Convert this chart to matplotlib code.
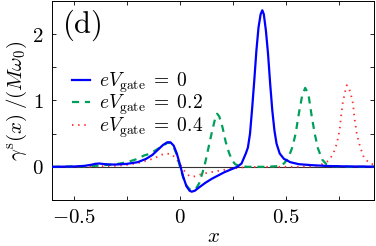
import matplotlib
matplotlib.use("Agg")
import matplotlib.pyplot as plt
from matplotlib.ticker import FixedLocator, FixedFormatter

plt.rcParams['mathtext.fontset'] = 'cm'
plt.rcParams['font.family'] = ['DejaVu Serif']

# ---- data ----
x_blue = [-0.6, -0.5, -0.45, -0.42, -0.40, -0.38, -0.36, -0.33, -0.30, -0.25, -0.20, -0.16,
          -0.13, -0.10, -0.08, -0.06, -0.045, -0.03, -0.015, 0.0, 0.015, 0.03, 0.045, 0.055,
          0.07, 0.09, 0.12, 0.15, 0.18, 0.21, 0.24, 0.27, 0.29, 0.31, 0.32, 0.33, 0.34, 0.35,
          0.36, 0.37, 0.38, 0.388, 0.395, 0.405, 0.415, 0.425, 0.435, 0.445, 0.455, 0.47,
          0.49, 0.52, 0.56, 0.62, 0.7, 0.8, 0.92]
y_blue = [0.0, 0.005, 0.015, 0.03, 0.045, 0.05, 0.042, 0.035, 0.035, 0.045, 0.07, 0.12,
          0.18, 0.27, 0.33, 0.37, 0.37, 0.32, 0.2, 0.03, -0.15, -0.29, -0.36, -0.375,
          -0.36, -0.31, -0.24, -0.18, -0.13, -0.08, -0.04, 0.0, 0.05, 0.2, 0.29, 0.5, 0.88, 1.3,
          1.75, 2.1, 2.3, 2.36, 2.3, 2.05, 1.7, 1.25, 0.85, 0.55, 0.35, 0.2,
          0.12, 0.07, 0.04, 0.025, 0.012, 0.006, 0.003]

x_green = [-0.6, -0.5, -0.4, -0.3, -0.25, -0.2, -0.17, -0.14, -0.11, -0.08, -0.06, -0.045,
           -0.03, -0.015, 0.0, 0.015, 0.03, 0.045, 0.06, 0.075, 0.09, 0.105, 0.12, 0.135,
           0.15, 0.165, 0.175, 0.185, 0.2, 0.215, 0.23, 0.245, 0.26, 0.28, 0.32, 0.4, 0.46,
           0.49, 0.51, 0.53, 0.545, 0.56, 0.575, 0.59, 0.605, 0.62, 0.635, 0.65, 0.67, 0.69,
           0.72, 0.8, 0.92]
y_green = [0.0, 0.005, 0.015, 0.04, 0.07, 0.12, 0.17, 0.2, 0.26, 0.32, 0.36, 0.36,
           0.3, 0.18, 0.0, -0.16, -0.28, -0.34, -0.35, -0.33, -0.25, -0.1, 0.08, 0.3,
           0.52, 0.72, 0.8, 0.76, 0.6, 0.38, 0.22, 0.1, 0.04, 0.01, 0.0, 0.0, 0.01,
           0.05, 0.13, 0.3, 0.5, 0.8, 1.06, 1.19, 1.1, 0.78, 0.5, 0.28, 0.11, 0.04,
           0.01, 0.0, 0.0]

x_red = [-0.6, -0.4, -0.3, -0.25, -0.2, -0.16, -0.12, -0.09, -0.065, -0.04, -0.02, 0.0,
         0.015, 0.03, 0.045, 0.06, 0.08, 0.1, 0.13, 0.165, 0.2, 0.24, 0.28, 0.32, 0.4, 0.55,
         0.62, 0.66, 0.7, 0.723, 0.739, 0.752, 0.759, 0.767, 0.778, 0.786, 0.795, 0.805,
         0.815, 0.822, 0.833, 0.849, 0.868, 0.896, 0.92]
y_red = [0.0, 0.005, 0.015, 0.03, 0.055, 0.09, 0.13, 0.18, 0.2, 0.19, 0.13, 0.04,
         -0.04, -0.1, -0.14, -0.15, -0.135, -0.11, -0.09, -0.07, -0.05, -0.03, -0.012, -0.004, 0.0, 0.0,
         0.005, 0.025, 0.09, 0.2, 0.35, 0.55, 0.75, 0.96, 1.13, 1.23, 1.2, 1.1,
         0.96, 0.75, 0.5, 0.3, 0.13, 0.05, 0.03]

labels = [r'$eV_{\mathrm{gate}}\;=\;0$', r'$eV_{\mathrm{gate}}\;=\;0.2$',
          r'$eV_{\mathrm{gate}}\;=\;0.4$']

x_ticks = [-0.5, 0, 0.5]
x_ticklabels = [r'$-0.5$', r'$0$', r'$0.5$']
x_minor = [-0.25, 0.25, 0.75]
y_ticks = [0, 1, 2]
y_ticklabels = [r'$0$', r'$1$', r'$2$']
y_minor = [-0.5, 0.5, 1.5]

fig = plt.figure(figsize=(3.76, 2.46), dpi=100)
ax = fig.add_axes([0.138, 0.187, 0.857, 0.809])

ax.axhline(0, color='#333333', lw=0.8, zorder=1)
ax.plot(x_blue, y_blue, color='#0000ff', lw=1.6, label=labels[0], zorder=4)
ax.plot(x_green, y_green, color='#00a05a', lw=1.6, ls=(0, (3.2, 2.6)), label=labels[1], zorder=3)
ax.plot(x_red, y_red, color='#ff2a2a', lw=1.3, ls=(0, (0.8, 2.6)), label=labels[2], zorder=2)

ax.set_xlim(-0.604, 0.915)
ax.set_ylim(-0.5, 2.5)
ax.xaxis.set_major_locator(FixedLocator(x_ticks))
ax.xaxis.set_major_formatter(FixedFormatter(x_ticklabels))
ax.xaxis.set_minor_locator(FixedLocator(x_minor))
ax.yaxis.set_major_locator(FixedLocator(y_ticks))
ax.yaxis.set_major_formatter(FixedFormatter(y_ticklabels))
ax.yaxis.set_minor_locator(FixedLocator(y_minor))
ax.tick_params(which='both', direction='in', top=True, right=True, length=3, width=0.6,
               labelsize=15, pad=6)
for s in ax.spines.values():
    s.set_linewidth(0.7)

ax.set_xlabel(r'$x$', fontsize=15, labelpad=0)
ax.set_ylabel(r'$\gamma^{\mathrm{s}}(x)\;/(M\omega_0)$', fontsize=15, labelpad=2)

ax.text(0.032, 0.965, r'$\mathrm{(d)}$', transform=ax.transAxes, fontsize=22,
        va='top', ha='left')

leg = ax.legend(loc='upper left', bbox_to_anchor=(0.02, 0.72), frameon=False,
                fontsize=14, handlelength=0.95, handletextpad=0.45, labelspacing=-0.1,
                borderpad=0.2)

fig.savefig('out.png', dpi=100)
